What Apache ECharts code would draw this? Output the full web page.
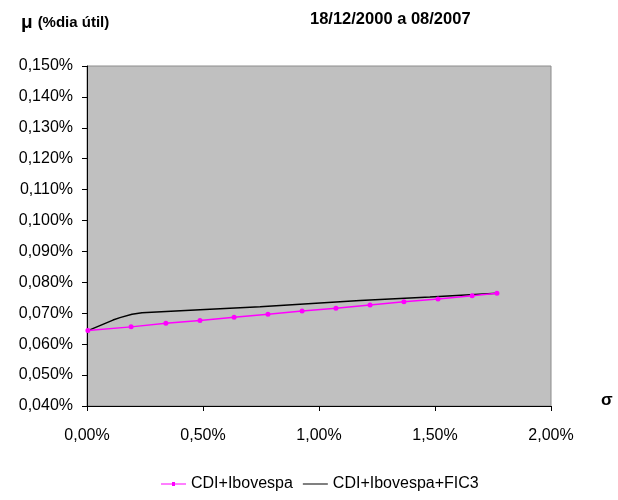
<!DOCTYPE html>
<html><head><meta charset="utf-8">
<script src="https://cdn.jsdelivr.net/npm/echarts@6/dist/echarts.min.js"></script>
<style>html,body{margin:0;padding:0;background:#fff}#c{width:618px;height:500px}</style>
</head><body><div id="c"></div>
<script>
const seriesNames = ['CDI+Ibovespa', 'CDI+Ibovespa+FIC3'];
const sigmaA = [0.004, 0.19, 0.34, 0.487, 0.634, 0.78, 0.927, 1.073, 1.22, 1.366, 1.513, 1.66, 1.767];
const muA = [0.0644, 0.0656, 0.0668, 0.0677, 0.0687, 0.0697, 0.0707, 0.0716, 0.0727, 0.0737, 0.0746, 0.0757, 0.0765];
const sigmaB = [0.004, 0.112, 0.142, 0.194, 0.237, 0.487, 0.746, 1.177, 1.478, 1.767];
const muB = [0.0644, 0.0678, 0.0686, 0.0697, 0.0702, 0.0711, 0.0721, 0.0741, 0.0753, 0.0765];
const yTicks = { min: 0.04, max: 0.15, step: 0.01 };
const xTicks = { min: 0, max: 2.0, step: 0.5 };

const pairs = (xs, ys) => xs.map((x, i) => [x, ys[i]]);
const font = 'Liberation Sans, Arial, sans-serif';
const chart = echarts.init(document.getElementById('c'));
chart.setOption({
  animation: false,
  textStyle: { fontFamily: font },
  grid: { left: 87, right: 67, top: 66, bottom: 94, show: true, backgroundColor: '#C0C0C0', borderWidth: 1, borderColor: '#8c8c8c' },
  title: [
    { text: '{mu|μ} {t|(%dia útil)}', left: 16, top: 8,
      textStyle: { rich: { mu: { fontSize: 19, fontWeight: 'bold', fontFamily: font, color: '#000' },
                           t: { fontSize: 15, fontWeight: 'bold', fontFamily: font, color: '#000' } } } },
    { text: '18/12/2000 a 08/2007', left: 305, top: 6, textStyle: { fontSize: 16.5, fontWeight: 'bold', fontFamily: font, color: '#000' } },
    { text: 'σ', left: 596, top: 387, textStyle: { fontSize: 17, fontWeight: 'bold', fontFamily: font, color: '#000' } }
  ],
  legend: {
    top: 471, left: 156, itemWidth: 25, itemHeight: 10, itemGap: 10,
    textStyle: { fontSize: 16, fontFamily: font, color: '#000' },
    data: [
      { name: seriesNames[0], icon: 'path://M0,4.5 L25,4.5 L25,5.5 L0,5.5 Z M11,3 L14,3 L14,7 L11,7 Z' },
      { name: seriesNames[1], icon: 'path://M0,4.5 L25,4.5 L25,5.5 L0,5.5 Z' }
    ]
  },
  xAxis: {
    type: 'value', min: xTicks.min, max: xTicks.max, interval: xTicks.step,
    axisLine: { show: true, lineStyle: { color: '#000', width: 1 } },
    axisTick: { show: true, inside: false, length: 5, lineStyle: { color: '#000' } },
    splitLine: { show: false },
    axisLabel: { fontSize: 16, color: '#000', fontFamily: font, margin: 22,
      formatter: v => v.toFixed(2).replace('.', ',') + '%' }
  },
  yAxis: {
    type: 'value', min: yTicks.min, max: yTicks.max, interval: yTicks.step,
    axisLine: { show: true, lineStyle: { color: '#000', width: 1 } },
    axisTick: { show: true, inside: false, length: 5, lineStyle: { color: '#000' } },
    splitLine: { show: false },
    axisLabel: { fontSize: 16, color: '#000', fontFamily: font, margin: 14,
      formatter: v => v.toFixed(3).replace('.', ',') + '%' }
  },
  series: [
    { name: seriesNames[0], type: 'line', data: pairs(sigmaA, muA), color: '#FF00FF',
      lineStyle: { width: 1.5, color: '#FF00FF' }, symbol: 'circle', symbolSize: 5, showSymbol: true,
      itemStyle: { color: '#FF00FF' } },
    { name: seriesNames[1], type: 'line', data: pairs(sigmaB, muB), color: '#000',
      lineStyle: { width: 1.5, color: '#000' }, symbol: 'none', z: 1 }
  ]
});
</script></body></html>
